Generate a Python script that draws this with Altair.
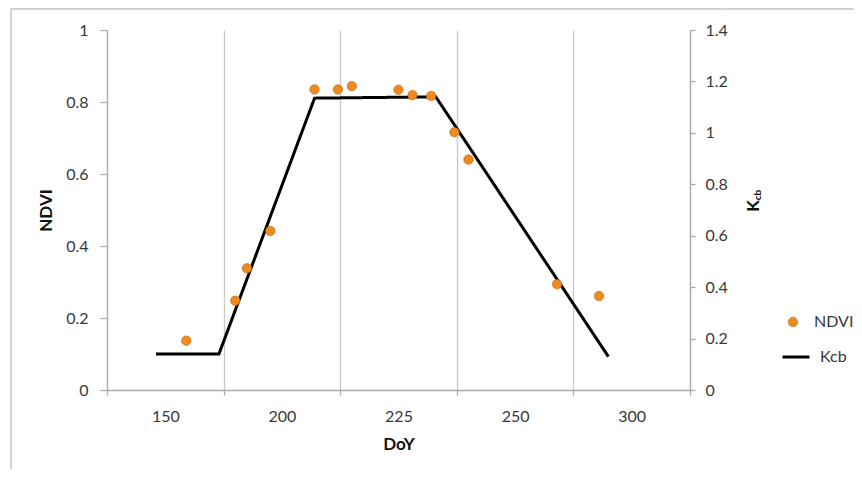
import altair as alt
import pandas as pd

# ---- data ----
ndvi_doy = [159, 180, 185, 195, 207, 212, 215, 225, 228, 232, 237, 240, 268, 286]
ndvi_val = [0.137, 0.248, 0.338, 0.442, 0.835, 0.835, 0.844, 0.834, 0.819, 0.817, 0.716, 0.640, 0.294, 0.261]

kcb_doy = [146, 173, 207, 233, 290]
kcb_val = [0.14, 0.14, 1.135, 1.14, 0.13]

x_labels = [150, 200, 225, 250, 300]
x_grid = [125, 175, 212.5, 237.5, 275, 325]
ndvi_ticks = [0, 0.2, 0.4, 0.6, 0.8, 1.0]
kcb_ticks = [0, 0.2, 0.4, 0.6, 0.8, 1.0, 1.2, 1.4]

W, H = 583, 360
FONT = "Lato"
LABEL_C = "#383838"
TITLE_C = "#111111"
GRID_C = "#c9c9c9"
ORANGE = "#EE8B1F"

ndvi_df = pd.DataFrame({"DoY": ndvi_doy, "NDVI": ndvi_val, "series": ["NDVI"] * len(ndvi_doy)})
kcb_df = pd.DataFrame({"DoY": kcb_doy, "Kcb": kcb_val, "series": ["Kcb"] * len(kcb_doy)})

# Excel-style axis: labels sit between gridlines (piecewise linear scale)
x_scale = alt.Scale(
    domain=[125, 150, 200, 225, 250, 300, 325],
    range=[0, W * 0.1, W * 0.3, W * 0.5, W * 0.7, W * 0.9, W],
    nice=False,
    zero=False,
)
lab_test = "indexof([150,200,225,250,300], datum.value) >= 0"
x_axis = alt.Axis(
    values=sorted(x_grid + x_labels),
    labelExpr=f"{lab_test} ? format(datum.value, 'd') : ''",
    gridOpacity={"condition": {"test": lab_test, "value": 0}, "value": 1},
    tickOpacity={"condition": {"test": lab_test, "value": 0}, "value": 1},
    title="DoY",
    labelOverlap=False,
    labelBound=False,
    labelFlush=False,
    tickSize=5,
    labelPadding=13,
    titlePadding=12,
)

frame = alt.Chart(alt.Data(values=[{}])).mark_rect(
    fill="white", fillOpacity=0, stroke="#c2c2c2", strokeWidth=1.5
).encode(
    x=alt.value(-96), x2=alt.value(W + 300), y=alt.value(-21), y2=alt.value(H + 300)
)

line = alt.Chart(kcb_df).mark_line(color="black", strokeWidth=3).encode(
    x=alt.X("DoY:Q", scale=x_scale, axis=x_axis),
    y=alt.Y(
        "Kcb:Q",
        scale=alt.Scale(domain=[0, 1.4], nice=False),
        axis=alt.Axis(
            orient="right", values=kcb_ticks, format=".1~f", grid=False,
            title=None, tickSize=5, labelPadding=10,
        ),
    ),
    strokeDash=alt.StrokeDash(
        "series:N",
        scale=alt.Scale(domain=["Kcb"], range=[[1, 0]]),
        legend=alt.Legend(
            title=None, orient="none", legendX=674, legendY=312,
            symbolSize=729, symbolStrokeWidth=3, symbolStrokeColor="black",
            labelOffset=9, padding=0,
        ),
    ),
)

points = alt.Chart(ndvi_df).mark_point(
    filled=True, size=90, opacity=1, stroke="#c06510", strokeWidth=0.6
).encode(
    x=alt.X("DoY:Q", scale=x_scale, axis=x_axis),
    y=alt.Y(
        "NDVI:Q",
        scale=alt.Scale(domain=[0, 1], nice=False),
        axis=alt.Axis(
            orient="left", values=ndvi_ticks, format=".1~f", title="NDVI",
            tickSize=7, labelPadding=12, titlePadding=10,
        ),
    ),
    color=alt.Color(
        "series:N",
        scale=alt.Scale(domain=["NDVI"], range=[ORANGE]),
        legend=alt.Legend(
            title=None, orient="none", legendX=678, legendY=284,
            symbolType="circle", symbolSize=90, symbolStrokeColor="#c06510",
            symbolStrokeWidth=0.6, labelOffset=13, padding=0,
        ),
    ),
)

k_title = alt.Chart(alt.Data(values=[{}])).mark_text(
    text="K", angle=270, font=FONT, fontSize=17, fontWeight="bold",
    color=TITLE_C, align="center", baseline="middle",
).encode(x=alt.value(W + 64), y=alt.value(H / 2 - 4))

cb_sub = alt.Chart(alt.Data(values=[{}])).mark_text(
    text="cb", angle=270, font=FONT, fontSize=10, fontWeight="bold",
    color=TITLE_C, align="center", baseline="middle",
).encode(x=alt.value(W + 68), y=alt.value(H / 2 - 15))

chart = (
    alt.layer(frame, line, points, k_title, cb_sub)
    .resolve_scale(y="independent", color="independent", strokeDash="independent")
    .properties(
        width=W, height=H,
        autosize=alt.AutoSizeParams(type="none"),
        padding={"left": 99, "top": 22, "right": 164, "bottom": 79},
        background="white",
    )
    .configure_view(stroke=None)
    .configure_axis(
        labelFont=FONT, labelFontSize=16, labelColor=LABEL_C,
        titleFont=FONT, titleFontSize=17, titleFontWeight="bold", titleColor=TITLE_C,
        gridColor=GRID_C, gridWidth=1.3, domainColor="#ababab", domainWidth=1.3,
        tickColor="#ababab", tickWidth=1.3,
    )
    .configure_legend(labelFont=FONT, labelFontSize=16, labelColor=LABEL_C)
)

chart.save("out.html", embed_options={"renderer": "svg", "actions": False})
